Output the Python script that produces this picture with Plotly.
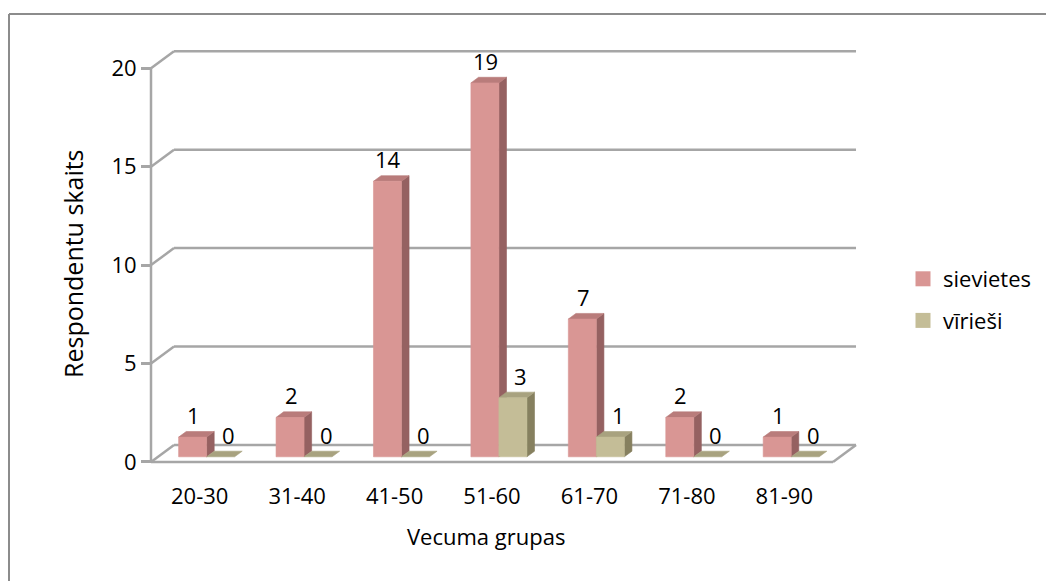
import numpy as np
import plotly.graph_objects as go

# ---- data -------------------------------------------------------------
categories = ["20-30", "31-40", "41-50", "51-60", "61-70", "71-80", "81-90"]
sievietes = [1, 2, 14, 19, 7, 2, 1]
viriesi = [0, 0, 0, 3, 1, 0, 0]
y_ticks = [0, 5, 10, 15, 20]
series_names = ["sievietes", "vīrieši"]

# ---- styling ----------------------------------------------------------
FONT = "Open Sans"
FS = 22
GRID = "#a6a6a6"
FACE = {  # front, top, side
    "sievietes": ("#d99694", "#b97c7b", "#956161"),
    "vīrieši": ("#c4bd97", "#a8a27f", "#86805f"),
}

# page geometry (pixels) used to set the axis ranges
W, H = 1046, 581
X_LEFT_PX = 151.0     # left end of the floor front edge (x = -0.5)
CAT_PX = 97.43        # pixels per category
Y0_PX = 461.9         # floor front edge (value 0)
VAL_PX = 19.68        # pixels per unit of value
DEPTH_X_PX, DEPTH_Y_PX = 23.0, 17.0

x_range = [-0.5 - X_LEFT_PX / CAT_PX, -0.5 + (W - X_LEFT_PX) / CAT_PX]
y_range = [(Y0_PX - H) / VAL_PX, Y0_PX / VAL_PX]

DX = DEPTH_X_PX / CAT_PX      # full floor depth, in category units
DY = DEPTH_Y_PX / VAL_PX      # full floor depth, in value units
BW = 28.0 / CAT_PX            # bar width
D0, D1 = 0.30, 0.63           # bars occupy this slice of the depth

n = len(categories)
idx = np.arange(n)
x_lo, x_hi = -0.5, n - 0.5
y_max = y_ticks[-1]

fig = go.Figure()


def polys(pts_list):
    xs, ys = [], []
    for pts in pts_list:
        for px, py in pts:
            xs.append(px)
            ys.append(py)
        xs.append(pts[0][0])
        ys.append(pts[0][1])
        xs.append(None)
        ys.append(None)
    return xs, ys


def add_face(pts_list, color):
    xs, ys = polys(pts_list)
    fig.add_trace(go.Scatter(
        x=xs, y=ys, mode="lines", fill="toself", fillcolor=color,
        line=dict(width=0.6, color=color), hoverinfo="skip", showlegend=False,
    ))


# 3D columns: side, top and front faces for each series
label_pos = []
for k, (name, vals) in enumerate(zip(series_names, [sievietes, viriesi])):
    vals = np.asarray(vals, dtype=float)
    x0 = idx - BW + k * BW + D0 * DX
    x1 = x0 + BW
    b = D0 * DY
    top = b + vals
    ddx = (D1 - D0) * DX
    ddy = (D1 - D0) * DY
    front_c, top_c, side_c = FACE[name]
    side = [[(x1[i], b), (x1[i] + ddx, b + ddy), (x1[i] + ddx, top[i] + ddy), (x1[i], top[i])]
            for i in range(n) if vals[i] > 0]
    topf = [[(x0[i], top[i]), (x1[i], top[i]), (x1[i] + ddx, top[i] + ddy), (x0[i] + ddx, top[i] + ddy)]
            for i in range(n)]
    front = [[(x0[i], b), (x1[i], b), (x1[i], top[i]), (x0[i], top[i])]
             for i in range(n) if vals[i] > 0]
    if side:
        add_face(side, side_c)
    add_face(topf, top_c)
    if front:
        add_face(front, front_c)
    for i in range(n):
        label_pos.append(((x0[i] + x1[i]) / 2, top[i], vals[i], k))

# legend entries
for name in series_names:
    fig.add_trace(go.Scatter(
        x=[None], y=[None], mode="markers", name=name, legendgroup=name,
        marker=dict(symbol="square", size=15, color=FACE[name][0]),
    ))

# value labels
for xc, yt, v, k in label_pos:
    fig.add_annotation(
        x=xc, y=yt, text=f"{int(v)}", showarrow=False,
        xanchor="center", yanchor="middle", xshift=1 if k == 0 else 8, yshift=22,
        font=dict(family=FONT, size=FS, color="black"),
    )

# back wall gridlines, floor and the vertical axis line
shapes = []
for v in y_ticks[1:]:
    shapes.append(dict(type="line", x0=x_lo, y0=v, x1=x_lo + DX, y1=v + DY))
    shapes.append(dict(type="line", x0=x_lo + DX, y0=v + DY, x1=x_hi + DX, y1=v + DY))
floor = [(x_lo, 0), (x_hi, 0), (x_hi + DX, DY), (x_lo + DX, DY), (x_lo, 0)]
for (ax, ay), (bx, by) in zip(floor[:-1], floor[1:]):
    shapes.append(dict(type="line", x0=ax, y0=ay, x1=bx, y1=by))
shapes.append(dict(type="line", x0=x_lo, y0=0, x1=x_lo, y1=y_max))
for s in shapes:
    s.update(xref="x", yref="y", layer="below", line=dict(color=GRID, width=2.5))
    fig.add_shape(**s)

# chart frame
for s in [dict(x0=9 / W, y0=1 - 14 / H, x1=9 / W, y1=0),
          dict(x0=9 / W, y0=1 - 14 / H, x1=1, y1=1 - 14 / H)]:
    fig.add_shape(type="line", xref="paper", yref="paper",
                  line=dict(color="#8c8c8c", width=2), layer="below", **s)

# axis titles
fig.add_annotation(text="Respondentu skaits", xref="paper", yref="paper",
                   x=73 / W, y=1 - 264 / H, textangle=-90, showarrow=False,
                   xanchor="center", yanchor="middle",
                   font=dict(family=FONT, size=25, color="black"))
fig.add_annotation(text="Vecuma grupas", xref="paper", yref="paper",
                   x=486 / W, y=1 - 536 / H, showarrow=False,
                   xanchor="center", yanchor="middle",
                   font=dict(family=FONT, size=FS, color="black"))

fig.update_layout(
    width=W, height=H,
    margin=dict(l=0, r=0, t=0, b=0),
    paper_bgcolor="white", plot_bgcolor="white",
    font=dict(family=FONT, size=FS, color="black"),
    showlegend=True,
    legend=dict(x=903 / W, y=1 - 258 / H, xanchor="left", yanchor="top",
                bgcolor="rgba(0,0,0,0)", tracegroupgap=10,
                font=dict(family=FONT, size=FS, color="black")),
    xaxis=dict(range=x_range, domain=[0, 1], anchor="free", position=1 - Y0_PX / H,
               tickvals=idx.tolist(), ticktext=categories, ticks="outside",
               ticklen=15, tickcolor="rgba(0,0,0,0)", showgrid=False,
               zeroline=False, showline=False, fixedrange=True),
    yaxis=dict(range=y_range, domain=[0, 1], anchor="free", position=X_LEFT_PX / W,
               tickvals=y_ticks, ticks="outside", ticklen=10, tickwidth=2.5,
               tickcolor=GRID, showgrid=False, zeroline=False, showline=False,
               fixedrange=True),
)

fig.write_html("out.html")
